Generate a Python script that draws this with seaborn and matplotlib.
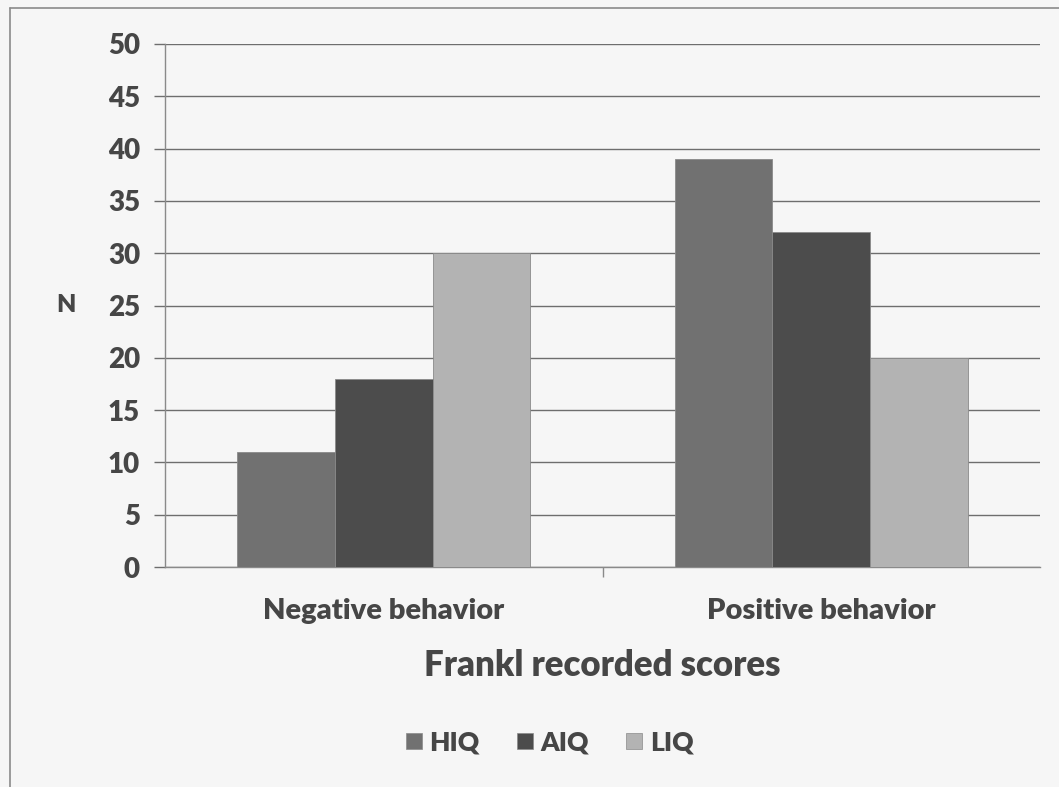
import matplotlib
matplotlib.use("Agg")
import matplotlib.pyplot as plt
import seaborn as sns
import pandas as pd
from matplotlib.lines import Line2D

categories = ["Negative behavior", "Positive behavior"]
groups = ["HIQ", "AIQ", "LIQ"]
hiq = [11, 39]
aiq = [18, 32]
liq = [30, 20]
y_ticks = [0, 5, 10, 15, 20, 25, 30, 35, 40, 45, 50]

rows = []
for g, vals in zip(groups, [hiq, aiq, liq]):
    for c, v in zip(categories, vals):
        rows.append({"Behavior": c, "Group": g, "N": v})
df = pd.DataFrame(rows)

sns.set_theme(style="white")
plt.rcParams["font.family"] = ["Lato", "DejaVu Sans"]

W = "heavy"
bg = "#f6f6f6"
text_c = "#464646"
palette = {"HIQ": "#717171", "AIQ": "#4c4c4c", "LIQ": "#b3b3b3"}

fig = plt.figure(figsize=(10.59, 7.87), dpi=100, facecolor=bg)
ax = fig.add_axes([165 / 1059, 1 - 567 / 787, 875 / 1059, 523 / 787])
ax.set_facecolor(bg)

sns.barplot(data=df, x="Behavior", y="N", hue="Group", order=categories,
            hue_order=groups, palette=palette, width=0.67, saturation=1,
            edgecolor="#8a8a8a", linewidth=0.6, ax=ax, legend=False, zorder=3)

ax.set_ylim(0, 50)
ax.set_yticks(y_ticks)
ax.yaxis.grid(True, color="#6e6e6e", linewidth=1.0, zorder=0)
ax.set_axisbelow(True)
for s in ["top", "right"]:
    ax.spines[s].set_visible(False)
for s in ["left", "bottom"]:
    ax.spines[s].set_color("#8a8a8a")
    ax.spines[s].set_linewidth(1.0)

ax.tick_params(axis="y", which="major", length=8, color="#6e6e6e", width=1.0,
               labelsize=20, labelcolor=text_c, pad=10, left=True)
ax.tick_params(axis="x", which="major", length=0, labelsize=21,
               labelcolor=text_c, pad=22)
ax.set_xticks([0.5], minor=True)
ax.tick_params(axis="x", which="minor", length=7, color="#8a8a8a", width=1.0,
               bottom=True, direction="out")
ax.set_xlim(-0.5, 1.5)

for lab in ax.get_yticklabels() + ax.get_xticklabels():
    lab.set_fontweight(W)

ax.set_xlabel("Frankl recorded scores", fontsize=25, color=text_c,
              fontweight=W, labelpad=18)
ax.set_ylabel("N", fontsize=18, color=text_c, fontweight=W,
              rotation=0, labelpad=30, va="center")

handles = [Line2D([0], [0], marker="s", linestyle="none", markersize=11,
                  markerfacecolor=palette[g], markeredgecolor="#8a8a8a",
                  markeredgewidth=0.5) for g in groups]
leg = fig.legend(handles, groups, loc="center", bbox_to_anchor=(0.514, 1 - 742 / 787),
                 ncol=3, frameon=False, handletextpad=-0.1, columnspacing=1.0,
                 handlelength=1.4, prop={"size": 19, "weight": W})
for t in leg.get_texts():
    t.set_color(text_c)

# outer chart frame
fig.add_artist(Line2D([10 / 1059, 10 / 1059], [0, 1 - 8 / 787],
                      transform=fig.transFigure, color="#8a8a8a", linewidth=1.2))
fig.add_artist(Line2D([10 / 1059, 1.0], [1 - 8 / 787, 1 - 8 / 787],
                      transform=fig.transFigure, color="#8a8a8a", linewidth=1.2))

fig.savefig("out.png", dpi=100, facecolor=bg)
